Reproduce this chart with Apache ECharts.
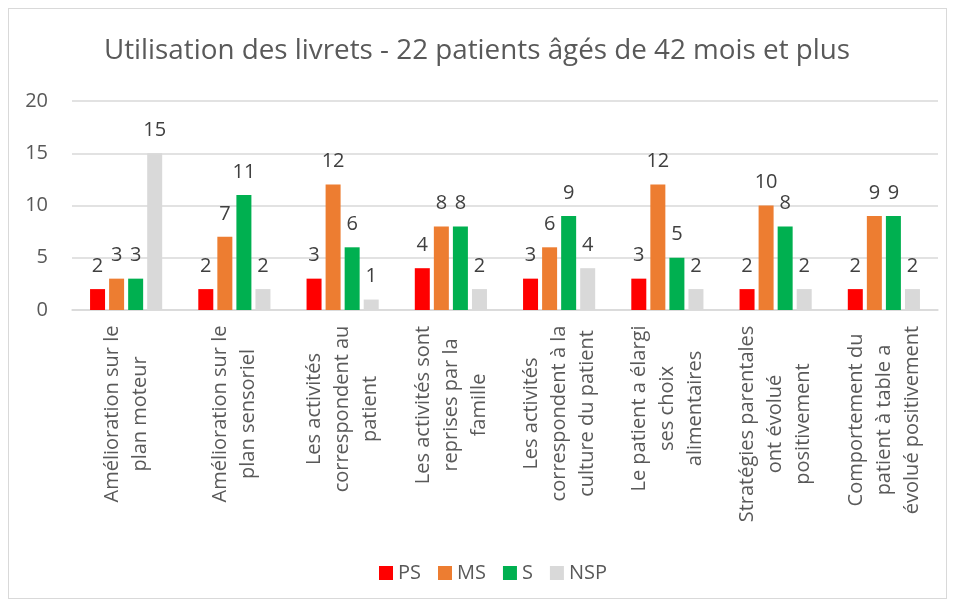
<!DOCTYPE html>
<html>
<head>
<meta charset="utf-8">
<script src="https://cdn.jsdelivr.net/npm/echarts@6/dist/echarts.min.js"></script>
<style>
  html, body { margin: 0; padding: 0; background: #fff; }
  #wrap { position: absolute; left: 8px; top: 8px; width: 937px; height: 589px; border: 1px solid #d9d9d9; }
  #chart { position: absolute; left: -9px; top: -9px; width: 954px; height: 606px; }
</style>
</head>
<body>
<div id="wrap"><div id="chart"></div></div>
<script>
var categories = [
  "Amélioration sur le\nplan moteur",
  "Amélioration sur le\nplan sensoriel",
  "Les activités\ncorrespondent au\npatient",
  "Les activités sont\nreprises par la\nfamille",
  "Les activités\ncorrespondent à la\nculture du patient",
  "Le patient a élargi\nses choix\nalimentaires",
  "Stratégies parentales\nont évolué\npositivement",
  "Comportement du\npatient à table a\névolué positivement"
];
var seriesNames = ["PS", "MS", "S", "NSP"];
var ps = [2, 2, 3, 4, 3, 3, 2, 2];
var ms = [3, 7, 12, 8, 6, 12, 10, 9];
var s = [3, 11, 6, 8, 9, 5, 8, 9];
var nsp = [15, 2, 1, 2, 4, 2, 2, 2];
var colors = ["#FF0000", "#ED7D31", "#00B050", "#D9D9D9"];

var font = "Open Sans";
var labelSize = 20;

// measure longest line of each category so lines can be centred inside the block
var ctx = document.createElement("canvas").getContext("2d");
ctx.font = labelSize + "px '" + font + "'";
var rich = {};
categories.forEach(function (c, i) {
  var w = 0;
  c.split("\n").forEach(function (l) { w = Math.max(w, ctx.measureText(l).width); });
  rich["w" + i] = { width: Math.ceil(w) + 1, align: "center", fontSize: labelSize, fontFamily: font, color: "#595959", lineHeight: 28 };
});

var chart = echarts.init(document.getElementById("chart"));

function bar(name, data, color) {
  return {
    name: name,
    type: "bar",
    data: data,
    barWidth: 15,
    barGap: "27%",
    itemStyle: { color: color },
    label: {
      show: true,
      position: "top",
      distance: 13,
      fontSize: 20,
      fontFamily: font,
      color: "#404040"
    }
  };
}

var option = {
  animation: false,
  title: {
    text: "Utilisation des livrets - 22 patients âgés de 42 mois et plus",
    left: "center",
    top: 32,
    padding: [5, 5, 5, 46],
    textStyle: { fontSize: 27.8, fontWeight: "normal", color: "#595959", fontFamily: font }
  },
  legend: {
    data: seriesNames,
    bottom: 18,
    left: 374,
    itemWidth: 14,
    itemHeight: 14,
    itemGap: 17,
    icon: "rect",
    textStyle: { fontSize: 20, color: "#595959", fontFamily: font }
  },
  grid: { left: 72, right: 16, top: 101, bottom: 296 },
  xAxis: {
    type: "category",
    data: categories,
    axisLine: { show: true, lineStyle: { color: "#D9D9D9", width: 1.5 } },
    axisTick: { show: false },
    axisLabel: {
      interval: 0,
      rotate: 90,
      margin: 15,
      formatter: function (v, i) {
        return v.split("\n").map(function (l) { return "{w" + i + "|" + l + "}"; }).join("\n");
      },
      rich: rich
    }
  },
  yAxis: {
    type: "value",
    min: 0,
    max: 20,
    interval: 5,
    axisLine: { show: false },
    axisTick: { show: false },
    axisLabel: { fontSize: 20, color: "#595959", fontFamily: font, margin: 24 },
    splitLine: { lineStyle: { color: "#D9D9D9", width: 1.5 } }
  },
  series: [
    bar(seriesNames[0], ps, colors[0]),
    bar(seriesNames[1], ms, colors[1]),
    bar(seriesNames[2], s, colors[2]),
    bar(seriesNames[3], nsp, colors[3])
  ]
};
chart.setOption(option);
</script>
</body>
</html>
